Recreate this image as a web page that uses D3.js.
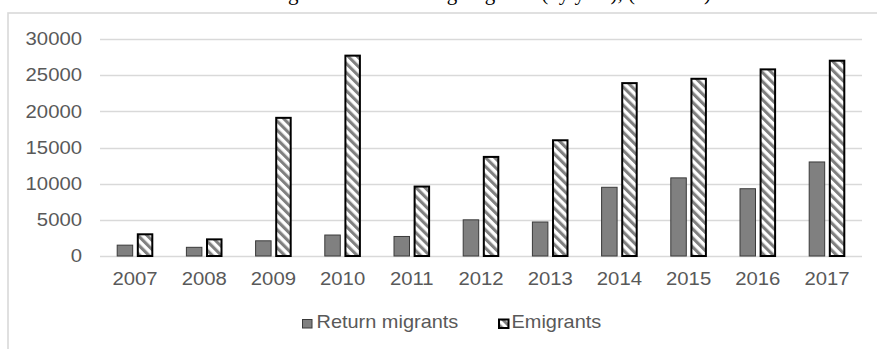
<!DOCTYPE html>
<html>
<head>
<meta charset="utf-8">
<script src="https://cdn.jsdelivr.net/npm/d3@7"></script>
<style>
  html, body { margin: 0; padding: 0; background: #fff; overflow: hidden; }
  svg { display: block; }
</style>
</head>
<body>
<svg id="chart" width="877" height="349"></svg>
<script>
const years = ["2007","2008","2009","2010","2011","2012","2013","2014","2015","2016","2017"];
const returnMigrants = [1500, 1200, 2100, 2900, 2700, 5000, 4700, 9500, 10800, 9300, 13000];
const emigrants = [3000, 2300, 19100, 27700, 9600, 13700, 16000, 23900, 24500, 25800, 27000];
const seriesNames = ["Return migrants", "Emigrants"];
const yTicks = [0, 5000, 10000, 15000, 20000, 25000, 30000];
const titleText = "Emigrants and returning migrants (by year), (Number)";

const svg = d3.select("#chart");
const W = 877, H = 349;
const textColor = "#595959";
const gridColor = "#d9d9d9";
const fontFam = "'Liberation Sans', Arial, sans-serif";
const fs = 17.5, sx = 1.16;

// hatch pattern
const defs = svg.append("defs");
const pat = defs.append("pattern")
  .attr("id", "hatch")
  .attr("patternUnits", "userSpaceOnUse")
  .attr("width", 6.4).attr("height", 6.4)
  .attr("patternTransform", "rotate(-45)");
pat.append("rect").attr("width", 6.4).attr("height", 6.4).attr("fill", "#fff");
pat.append("rect").attr("x", 0).attr("width", 3.1).attr("height", 6.4).attr("fill", "#808080");

// title (mostly cut off at top)
svg.append("text")
  .attr("x", 482).attr("y", 0)
  .attr("text-anchor", "middle")
  .attr("font-family", "'Liberation Serif', 'Times New Roman', serif")
  .attr("font-size", 21)
  .attr("fill", "#000")
  .text(titleText);

// chart area border
svg.append("rect")
  .attr("x", 8).attr("y", 13)
  .attr("width", W + 20).attr("height", H + 20)
  .attr("fill", "none")
  .attr("stroke", gridColor)
  .attr("stroke-width", 1.6);

const x = d3.scaleBand().domain(years).range([100.4, 861.6]).paddingInner(0).paddingOuter(0);
const xSub = d3.scaleBand().domain(seriesNames).range([-18.3, 18.3]).paddingInner(0.18);
const y = d3.scaleLinear().domain([0, 30000]).range([256, 39]);

// gridlines
svg.append("g").selectAll("line").data(yTicks).join("line")
  .attr("x1", 100).attr("x2", 862)
  .attr("y1", d => Math.round(y(d)) + 0.5).attr("y2", d => Math.round(y(d)) + 0.5)
  .attr("stroke", gridColor).attr("stroke-width", 1.3);

// y labels
svg.append("g").selectAll("text").data(yTicks).join("text")
  .attr("transform", d => `translate(82,${y(d) + 6.3}) scale(${sx},1)`)
  .attr("text-anchor", "end")
  .attr("font-family", fontFam).attr("font-size", fs)
  .attr("fill", textColor)
  .text(d => d);

// x labels
svg.append("g").selectAll("text").data(years).join("text")
  .attr("transform", d => `translate(${x(d) + x.bandwidth() / 2},285) scale(${sx},1)`)
  .attr("text-anchor", "middle")
  .attr("font-family", fontFam).attr("font-size", fs)
  .attr("fill", textColor)
  .text(d => d);

// bars
const gBars = svg.append("g");
gBars.selectAll("rect.ret").data(years).join("rect")
  .attr("class", "ret")
  .attr("x", (d) => x(d) + x.bandwidth() / 2 + xSub("Return migrants") + 0.5)
  .attr("y", (d, i) => y(returnMigrants[i]))
  .attr("width", xSub.bandwidth() - 1)
  .attr("height", (d, i) => y(0) - y(returnMigrants[i]))
  .attr("fill", "#808080")
  .attr("stroke", "#3a3a3a")
  .attr("stroke-width", 1);

gBars.selectAll("rect.emi").data(years).join("rect")
  .attr("class", "emi")
  .attr("x", (d) => x(d) + x.bandwidth() / 2 + xSub("Emigrants") + 1)
  .attr("y", (d, i) => y(emigrants[i]))
  .attr("width", xSub.bandwidth() - 2)
  .attr("height", (d, i) => y(0) - y(emigrants[i]))
  .attr("fill", "url(#hatch)")
  .attr("stroke", "#000")
  .attr("stroke-width", 2);

// legend
const leg = svg.append("g");
leg.append("rect")
  .attr("x", 302.5).attr("y", 319.5).attr("width", 9.5).attr("height", 8.5)
  .attr("fill", "#808080").attr("stroke", "#3a3a3a").attr("stroke-width", 1);
leg.append("text")
  .attr("transform", `translate(316.5,328) scale(1.14,1)`)
  .attr("font-family", fontFam).attr("font-size", fs)
  .attr("fill", textColor)
  .text(seriesNames[0]);
leg.append("rect")
  .attr("x", 499).attr("y", 319.5).attr("width", 9.5).attr("height", 8.5)
  .attr("fill", "url(#hatch)").attr("stroke", "#000").attr("stroke-width", 2);
leg.append("text")
  .attr("transform", `translate(511.5,328) scale(1.14,1)`)
  .attr("font-family", fontFam).attr("font-size", fs)
  .attr("fill", textColor)
  .text(seriesNames[1]);
</script>
</body>
</html>
